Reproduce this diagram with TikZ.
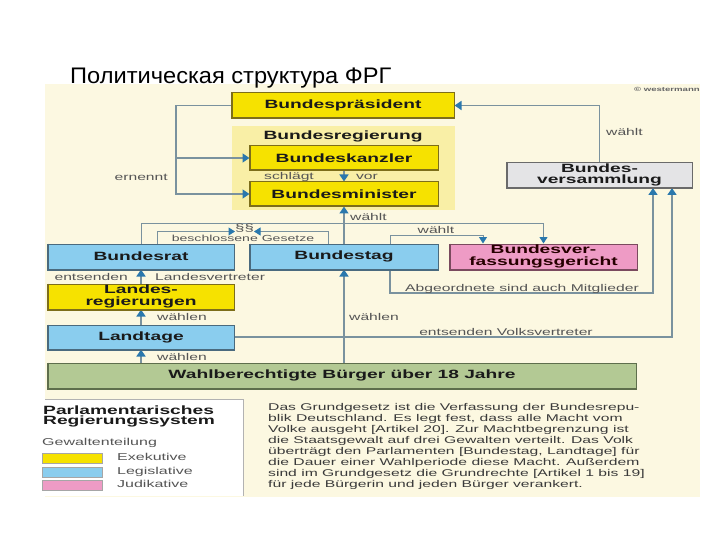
\documentclass[tikz,border=0pt]{standalone}
\usepackage{fontspec}
\setmainfont{Liberation Sans}
\newfontfamily\wide[FakeStretch=1.6]{Liberation Sans}
\newfontfamily\titlefont[FakeStretch=1.05]{Liberation Sans}
\usetikzlibrary{arrows.meta}
\definecolor{cream}{HTML}{FCF8E1}
\definecolor{grpbg}{HTML}{F9EFA6}
\definecolor{cyel}{HTML}{F6E200}
\definecolor{byel}{HTML}{7D6E1A}
\definecolor{cblue}{HTML}{8ACDEE}
\definecolor{bblue}{HTML}{4A6A7E}
\definecolor{cpink}{HTML}{EE9BC5}
\definecolor{bpink}{HTML}{7A4A5E}
\definecolor{cgray}{HTML}{E4E4E6}
\definecolor{bgray}{HTML}{6A6A6A}
\definecolor{cgreen}{HTML}{B3C994}
\definecolor{bgreen}{HTML}{5E6E4C}
\definecolor{linec}{HTML}{7A929E}
\definecolor{arrc}{HTML}{2A78AD}
\definecolor{lblc}{HTML}{555555}
\definecolor{boxtext}{HTML}{1A1A1A}
\definecolor{partext}{HTML}{3A3A3A}
\pgfdeclarelayer{back}
\pgfdeclarelayer{mid}
\pgfsetlayers{back,mid,main}
\begin{document}
\begin{tikzpicture}[x=1pt,y=-1pt,
  box/.style={draw, line width=1pt, inner sep=0pt, align=center,
    font=\wide\bfseries\fontsize{12}{11.5}\selectfont, text=boxtext, minimum height=25pt},
  yel/.style={box, fill=cyel, draw=byel},
  blu/.style={box, fill=cblue, draw=bblue},
  pnk/.style={box, fill=cpink, draw=bpink, text=black!85!red},
  gry/.style={box, fill=cgray, draw=bgray},
  grn/.style={box, fill=cgreen, draw=bgreen},
  lbl/.style={font=\wide\fontsize{9.8}{10}\selectfont, text=lblc, inner sep=0pt},
  line/.style={draw=linec, line width=1.4pt},
  conn/.style={line, -{Triangle[width=9pt,length=7pt,color=arrc]}},
  thinconn/.style={draw=linec, line width=1pt, -{Triangle[width=8pt,length=6.5pt,color=arrc]}},
  swatch/.style={draw=black!35, line width=0.6pt}
]
\useasboundingbox (0,0) rectangle (720,540);

\begin{pgfonlayer}{back}
\fill[white] (0,0) rectangle (720,540);
\fill[cream] (45,84) rectangle (700,497);
\node[fill=grpbg, minimum width=223pt, minimum height=84pt, inner sep=0pt] (breg) at (343.5,168) {};
\fill[white] (45,399) rectangle (243,496);
\end{pgfonlayer}

% title
\node[anchor=base west, font=\titlefont\fontsize{22.5}{24}\selectfont, inner sep=0pt] (title) at (70,84) {Политическая структура ФРГ};
\node[anchor=east, font=\wide\bfseries\fontsize{6}{6}\selectfont, text=black!60, inner sep=0pt] (copy) at (700,89) {© westermann};

% boxes
\node[yel, minimum width=222pt] (bp) at (343,105.5) {Bundespräsident};
\node[font=\wide\bfseries\fontsize{12}{12}\selectfont, text=boxtext, inner sep=0pt] (bregt) at (343,136) {Bundesregierung};
\node[yel, minimum width=188pt, minimum height=24pt] (kan) at (344,158) {Bundeskanzler};
\node[yel, minimum width=188pt, minimum height=24pt] (min) at (344,194) {Bundesminister};
\node[gry, minimum width=185pt] (vers) at (599.5,175) {Bundes-\\versammlung};
\node[blu, minimum width=186pt] (brat) at (141,256.5) {Bundesrat};
\node[blu, minimum width=188pt] (btag) at (344,256.5) {Bundestag};
\node[pnk, minimum width=187pt] (bvg) at (543.5,256.5) {Bundesver-\\fassungsgericht};
\node[yel, minimum width=186pt] (lr) at (141,296.5) {Landes-\\regierungen};
\node[blu, minimum width=186pt, minimum height=24pt] (lt) at (141,337) {Landtage};
\node[grn, minimum width=588pt] (cit) at (342,375.5) {Wahlberechtigte Bürger über 18 Jahre};

% darker left and bottom edges of the boxes
\foreach \n/\c in {bp/byel,kan/byel,min/byel,vers/bgray,brat/bblue,btag/bblue,bvg/bpink,lr/byel,lt/bblue,cit/bgreen}
  \draw[\c, line width=2pt] (\n.north west) -- (\n.south west) -- (\n.south east);

% connectors
\begin{pgfonlayer}{mid}
\coordinate (ernx) at (176,105.5);
\draw[conn] (bp.west) -- (ernx) |- (min.west);
\draw[conn] (ernx |- kan.west) -- (kan.west);

\draw[conn] (vers.north) |- (bp.east);
\draw[conn] (kan.south) -- (min.north);
\draw[conn] (btag.north) -- (min.south);

\coordinate (pa) at (157,231.5);
\coordinate (pb) at (328,231.5);
\coordinate (pae) at (235,231.5);
\coordinate (pbe) at (254,231.5);
\draw[thinconn] (brat.north -| pa) -- (pa) -- (pae);
\draw[thinconn] (btag.north -| pb) -- (pb) -- (pbe);

\coordinate (w1) at (141,224);
\draw[thinconn] (brat.north) -- (w1) -| (bvg.north);
\coordinate (w2) at (390,235);
\coordinate (w2x) at (483,235);
\draw[thinconn] (btag.north -| w2) -- (w2) -- (w2x) -- (bvg.north -| w2x);

\coordinate (ab) at (390,293);
\coordinate (abx) at (653,293);
\draw[conn] (btag.south -| ab) -- (ab) -- (abx) -- (vers.south -| abx);

\coordinate (ev) at (672,337);
\draw[conn] (lt.east) -- (ev) -- (vers.south -| ev);

\draw[conn] (cit.north -| btag.south) -- (btag.south);
\draw[conn] (lr.north) -- (brat.south);
\draw[conn] (lt.north) -- (lr.south);
\draw[conn] (cit.north -| lt.south) -- (lt.south);
\end{pgfonlayer}

% labels
\node[lbl, anchor=east] (l1) at (168,177) {ernennt};
\node[lbl, anchor=west] (l2) at (606,132) {wählt};
\node[lbl] (l3) at (289,176.5) {schlägt};
\node[lbl] (l4) at (367,176.5) {vor};
\node[lbl, anchor=west] (l5) at (350,217) {wählt};
\node[lbl, font=\wide\fontsize{10.5}{10}\selectfont] (l6) at (244.5,228.5) {§§};
\node[lbl, font=\wide\fontsize{8.8}{9}\selectfont] (l7) at (243,238.5) {beschlossene Gesetze};
\node[lbl] (l8) at (436,229.5) {wählt};
\node[lbl, anchor=base] (l9) at (522,291) {Abgeordnete sind auch Mitglieder};
\node[lbl, anchor=base] (l10) at (506,335) {entsenden Volksvertreter};
\node[lbl, anchor=west] (l11) at (349,317) {wählen};
\node[lbl, anchor=east] (l12) at (128,277) {entsenden};
\node[lbl, anchor=west] (l13) at (155,277) {Landesvertreter};
\node[lbl, anchor=west] (l14) at (157,317) {wählen};
\node[lbl, anchor=west] (l15) at (157,357) {wählen};

% legend
\draw[black!30, line width=1pt] (45,399) -- (243,399) -- (243,496);
\node[anchor=base west, inner sep=0pt, font=\wide\bfseries\fontsize{12}{12}\selectfont, text=boxtext] (lg1) at (43,414) {Parlamentarisches};
\node[anchor=base west, inner sep=0pt, font=\wide\bfseries\fontsize{12}{12}\selectfont, text=boxtext] (lg2) at (43,424.5) {Regierungssystem};
\node[anchor=base west, inner sep=0pt, font=\wide\fontsize{10}{10}\selectfont, text=lblc] (lg3) at (42,445) {Gewaltenteilung};
\fill[cyel, swatch] (42,453) rectangle (102,463);
\fill[cblue, swatch] (42,467) rectangle (102,477);
\fill[cpink, swatch] (42,480) rectangle (102,490);
\node[anchor=base west, inner sep=0pt, font=\wide\fontsize{10}{10}\selectfont, text=lblc] (lg4) at (117,460.5) {Exekutive};
\node[anchor=base west, inner sep=0pt, font=\wide\fontsize{10}{10}\selectfont, text=lblc] (lg5) at (117,474) {Legislative};
\node[anchor=base west, inner sep=0pt, font=\wide\fontsize{10}{10}\selectfont, text=lblc] (lg6) at (117,487) {Judikative};

% paragraph
\node[anchor=north west, align=left, inner sep=0pt, font=\wide\fontsize{9.8}{11}\selectfont, text=partext] (par) at (268,403) {Das Grundgesetz ist die Verfassung der Bundesrepu-\\
blik Deutschland. Es legt fest, dass alle Macht vom\\
Volke ausgeht [Artikel 20]. Zur Machtbegrenzung ist\\
die Staatsgewalt auf drei Gewalten verteilt. Das Volk\\
überträgt den Parlamenten [Bundestag, Landtage] für\\
die Dauer einer Wahlperiode diese Macht. Außerdem\\
sind im Grundgesetz die Grundrechte [Artikel 1 bis 19]\\
für jede Bürgerin und jeden Bürger verankert.};
\end{tikzpicture}
\end{document}
